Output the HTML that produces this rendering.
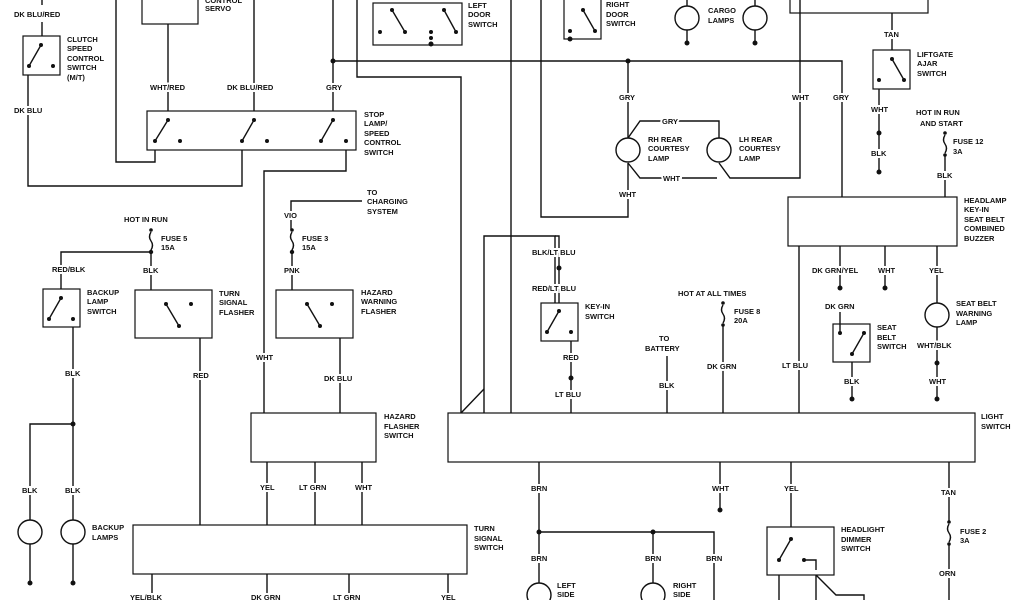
<!DOCTYPE html>
<html><head><meta charset="utf-8"><style>
html,body{margin:0;padding:0;background:#fff;}
svg{display:block;}
text{font-family:"Liberation Sans",sans-serif;font-size:7.5px;font-weight:bold;fill:#111;}
.w{paint-order:stroke;stroke:#fff;stroke-width:4px;}
line,polyline,rect,circle,path{stroke:#111;stroke-width:1.4;fill:none;}
.d{fill:#111;stroke:none;}
.b{stroke-width:1.2;}
</style></head><body>
<svg width="1024" height="600" viewBox="0 0 1024 600" xmlns="http://www.w3.org/2000/svg">
<!-- wires top-left -->
<polyline points="42,0 42,5"/>
<polyline points="42,22 42,36"/>
<polyline points="28,75 28,186 242,186 242,150"/>
<polyline points="116,0 116,162 155,162 155,150"/>
<line x1="168" y1="24" x2="168" y2="111"/>
<line x1="254" y1="0" x2="254" y2="111"/>
<line x1="333" y1="0" x2="333" y2="111"/>
<polyline points="333,61 842,61 842,197"/>
<polyline points="357,0 357,77 461,77 461,413"/>
<line x1="511" y1="0" x2="511" y2="413"/>
<polyline points="346,150 346,171 264,171 264,413"/>
<polyline points="541,0 541,217 628,217 628,163"/>
<polyline points="628,61 628,138"/>
<polyline points="800,0 800,178 730,178 719,163"/>
<polyline points="628,138 640,121 692,121"/><polyline points="692,121 719,121 719,138"/>
<polyline points="628,163 640,178 717,178"/>
<polyline points="484,413 484,236 555,236 555,303"/>
<line x1="461" y1="413" x2="484" y2="389"/>
<!-- boxes -->
<rect class="b" x="23" y="36" width="37" height="39"/>
<rect class="b" x="142" y="-2" width="56" height="26"/>
<rect class="b" x="147" y="111" width="209" height="39"/>
<rect class="b" x="373" y="3" width="89" height="42"/>
<rect class="b" x="564" y="-2" width="37" height="41"/>
<rect class="b" x="790" y="-2" width="138" height="15"/>
<rect class="b" x="873" y="50" width="37" height="39"/>
<rect class="b" x="788" y="197" width="169" height="49"/>
<rect class="b" x="43" y="289" width="37" height="38"/>
<rect class="b" x="135" y="290" width="77" height="48"/>
<rect class="b" x="276" y="290" width="77" height="48"/>
<rect class="b" x="541" y="303" width="37" height="38"/>
<rect class="b" x="833" y="324" width="37" height="38"/>
<rect class="b" x="251" y="413" width="125" height="49"/>
<rect class="b" x="448" y="413" width="527" height="49"/>
<rect class="b" x="133" y="525" width="334" height="49"/>
<rect class="b" x="767" y="527" width="67" height="48"/>
<!-- switch contacts -->
<g>
<circle class="d" cx="41" cy="45" r="2"/><circle class="d" cx="29" cy="66" r="2"/><circle class="d" cx="53" cy="66" r="2"/><line x1="41" y1="45" x2="29" y2="66"/>
<circle class="d" cx="168" cy="120" r="2"/><circle class="d" cx="155" cy="141" r="2"/><circle class="d" cx="180" cy="141" r="2"/><line x1="168" y1="120" x2="155" y2="141"/>
<circle class="d" cx="254" cy="120" r="2"/><circle class="d" cx="242" cy="141" r="2"/><circle class="d" cx="267" cy="141" r="2"/><line x1="254" y1="120" x2="242" y2="141"/>
<circle class="d" cx="333" cy="120" r="2"/><circle class="d" cx="321" cy="141" r="2"/><circle class="d" cx="346" cy="141" r="2"/><line x1="333" y1="120" x2="321" y2="141"/>
<circle class="d" cx="392" cy="10" r="2"/><circle class="d" cx="405" cy="32" r="2"/><line x1="392" y1="10" x2="405" y2="32"/>
<circle class="d" cx="444" cy="10" r="2"/><circle class="d" cx="456" cy="32" r="2"/><line x1="444" y1="10" x2="456" y2="32"/>
<circle class="d" cx="380" cy="32" r="2"/><circle class="d" cx="431" cy="32" r="2"/><circle class="d" cx="431" cy="38" r="2"/><circle class="d" cx="431" cy="44" r="2.5"/>
<circle class="d" cx="583" cy="10" r="2"/><circle class="d" cx="595" cy="31" r="2"/><line x1="583" y1="10" x2="595" y2="31"/><circle class="d" cx="570" cy="31" r="2"/><circle class="d" cx="570" cy="39" r="2.5"/>
<circle class="d" cx="892" cy="59" r="2"/><circle class="d" cx="904" cy="80" r="2"/><circle class="d" cx="879" cy="80" r="2"/><line x1="892" y1="59" x2="904" y2="80"/>
<circle class="d" cx="61" cy="298" r="2"/><circle class="d" cx="49" cy="319" r="2"/><circle class="d" cx="73" cy="319" r="2"/><line x1="61" y1="298" x2="49" y2="319"/>
<circle class="d" cx="166" cy="304" r="2"/><circle class="d" cx="191" cy="304" r="2"/><circle class="d" cx="179" cy="326" r="2"/><line x1="166" y1="304" x2="179" y2="326"/>
<circle class="d" cx="307" cy="304" r="2"/><circle class="d" cx="332" cy="304" r="2"/><circle class="d" cx="320" cy="326" r="2"/><line x1="307" y1="304" x2="320" y2="326"/>
<circle class="d" cx="559" cy="311" r="2"/><circle class="d" cx="547" cy="332" r="2"/><circle class="d" cx="571" cy="332" r="2"/><line x1="559" y1="311" x2="547" y2="332"/>
<circle class="d" cx="840" cy="333" r="2"/><circle class="d" cx="864" cy="333" r="2"/><circle class="d" cx="852" cy="354" r="2"/><line x1="864" y1="333" x2="852" y2="354"/>
<circle class="d" cx="791" cy="539" r="2"/><circle class="d" cx="779" cy="560" r="2"/><circle class="d" cx="804" cy="560" r="2"/><line x1="791" y1="539" x2="779" y2="560"/><polyline points="804,560 816,560 816,570"/>
</g>
<!-- right column wires -->
<line x1="892" y1="13" x2="892" y2="50"/>
<line x1="879" y1="89" x2="879" y2="172"/>
<circle class="d" cx="879" cy="133" r="2.5"/><circle class="d" cx="879" cy="172" r="2.5"/>
<line x1="945" y1="155" x2="945" y2="197"/><circle class="d" cx="945" cy="133" r="1.8"/><circle class="d" cx="945" cy="155" r="1.8"/><path d="M945,135 q-3,5 0,9 q3,4 0,9"/>
<line x1="799" y1="246" x2="799" y2="413"/>
<line x1="840" y1="246" x2="840" y2="288"/><circle class="d" cx="840" cy="288" r="2.5"/>
<line x1="885" y1="246" x2="885" y2="288"/><circle class="d" cx="885" cy="288" r="2.5"/>
<line x1="937" y1="246" x2="937" y2="303"/><circle cx="937" cy="315" r="12"/><line x1="937" y1="327" x2="937" y2="399"/><circle class="d" cx="937" cy="363" r="2.5"/><circle class="d" cx="937" cy="399" r="2.5"/>
<line x1="840" y1="312" x2="840" y2="333"/>
<line x1="852" y1="362" x2="852" y2="399"/><circle class="d" cx="852" cy="399" r="2.5"/>
<!-- lamps -->
<circle cx="687" cy="18" r="12"/><line x1="687" y1="30" x2="687" y2="43"/><circle class="d" cx="687" cy="43" r="2.5"/><line x1="687" y1="0" x2="687" y2="6"/>
<circle cx="755" cy="18" r="12"/><line x1="755" y1="30" x2="755" y2="43"/><circle class="d" cx="755" cy="43" r="2.5"/><line x1="755" y1="0" x2="755" y2="6"/>
<circle cx="628" cy="150" r="12"/><circle cx="719" cy="150" r="12"/>
<circle class="d" cx="333" cy="61" r="2.5"/><circle class="d" cx="628" cy="61" r="2.5"/>
<!-- key-in -->
<polyline points="555,236 559,236 559,303"/>
<circle class="d" cx="559" cy="268" r="2.5"/>
<line x1="571" y1="341" x2="571" y2="413"/><circle class="d" cx="571" cy="378" r="2.5"/>
<line x1="667" y1="356" x2="667" y2="413"/>
<line x1="723" y1="325" x2="723" y2="413"/><circle class="d" cx="723" cy="303" r="1.8"/><circle class="d" cx="723" cy="325" r="1.8"/><path d="M723,305 q-3,5 0,9 q3,4 0,9"/>
<!-- below light switch -->
<polyline points="539,462 539,532 714,532 714,600"/>
<line x1="653" y1="532" x2="653" y2="583"/><line x1="539" y1="532" x2="539" y2="583"/>
<circle cx="539" cy="595" r="12"/><circle cx="653" cy="595" r="12"/>
<circle class="d" cx="539" cy="532" r="2.5"/><circle class="d" cx="653" cy="532" r="2.5"/>
<line x1="720" y1="462" x2="720" y2="510"/><circle class="d" cx="720" cy="510" r="2.5"/>
<line x1="791" y1="462" x2="791" y2="527"/>
<line x1="779" y1="575" x2="779" y2="600"/><line x1="816" y1="575" x2="816" y2="600"/>
<polyline points="816,575 836,595 864,595 864,600"/>
<line x1="949" y1="462" x2="949" y2="522"/><line x1="949" y1="544" x2="949" y2="600"/>
<circle class="d" cx="949" cy="522" r="1.8"/><circle class="d" cx="949" cy="544" r="1.8"/><path d="M949,524 q-3,5 0,9 q3,4 0,9"/>
<!-- left lower -->
<line x1="151" y1="252" x2="151" y2="290"/><polyline points="61,289 61,252 151,252"/>
<circle class="d" cx="151" cy="230" r="1.8"/><circle class="d" cx="151" cy="252" r="2.2"/><path d="M151,232 q-3,5 0,9 q3,4 0,9"/>
<line x1="73" y1="327" x2="73" y2="520"/><polyline points="73,424 30,424 30,520"/><circle class="d" cx="73" cy="424" r="2.5"/>
<circle cx="30" cy="532" r="12"/><circle cx="73" cy="532" r="12"/>
<line x1="30" y1="544" x2="30" y2="583"/><line x1="73" y1="544" x2="73" y2="583"/>
<circle class="d" cx="30" cy="583" r="2.5"/><circle class="d" cx="73" cy="583" r="2.5"/>
<line x1="200" y1="338" x2="200" y2="525"/>
<polyline points="362,201 291,201 291,230"/><line x1="292" y1="252" x2="292" y2="290"/>
<circle class="d" cx="292" cy="230" r="1.8"/><circle class="d" cx="292" cy="252" r="2.2"/><path d="M292,232 q-3,5 0,9 q3,4 0,9"/>
<line x1="340" y1="338" x2="340" y2="413"/>
<line x1="267" y1="462" x2="267" y2="525"/><line x1="315" y1="462" x2="315" y2="525"/><line x1="362" y1="462" x2="362" y2="525"/>
<line x1="152" y1="574" x2="152" y2="600"/><line x1="267" y1="574" x2="267" y2="600"/><line x1="349" y1="574" x2="349" y2="600"/><line x1="448" y1="574" x2="448" y2="600"/>
<!-- labels -->
<g class="w">
<text x="14" y="17">DK BLU/RED</text>
<text x="14" y="113">DK BLU</text>
<text x="150" y="90">WHT/RED</text>
<text x="227" y="90">DK BLU/RED</text>
<text x="326" y="90">GRY</text>
<text x="619" y="100">GRY</text>
<text x="662" y="124">GRY</text>
<text x="663" y="181">WHT</text>
<text x="619" y="197">WHT</text>
<text x="792" y="100">WHT</text>
<text x="833" y="100">GRY</text>
<text x="884" y="37">TAN</text>
<text x="871" y="112">WHT</text>
<text x="871" y="156">BLK</text>
<text x="937" y="178">BLK</text>
<text x="812" y="273">DK GRN/YEL</text>
<text x="878" y="273">WHT</text>
<text x="929" y="273">YEL</text>
<text x="825" y="309">DK GRN</text>
<text x="917" y="348">WHT/BLK</text>
<text x="929" y="384">WHT</text>
<text x="844" y="384">BLK</text>
<text x="782" y="368">LT BLU</text>
<text x="532" y="255">BLK/LT BLU</text>
<text x="532" y="291">RED/LT BLU</text>
<text x="563" y="360">RED</text>
<text x="555" y="397">LT BLU</text>
<text x="659" y="388">BLK</text>
<text x="707" y="369">DK GRN</text>
<text x="531" y="491">BRN</text>
<text x="712" y="491">WHT</text>
<text x="784" y="491">YEL</text>
<text x="941" y="495">TAN</text>
<text x="939" y="576">ORN</text>
<text x="531" y="561">BRN</text><text x="645" y="561">BRN</text><text x="706" y="561">BRN</text>
<text x="52" y="272">RED/BLK</text>
<text x="143" y="273">BLK</text>
<text x="65" y="376">BLK</text>
<text x="22" y="493">BLK</text><text x="65" y="493">BLK</text>
<text x="193" y="378">RED</text>
<text x="284" y="218">VIO</text>
<text x="284" y="273">PNK</text>
<text x="256" y="360">WHT</text>
<text x="324" y="381">DK BLU</text>
<text x="260" y="490">YEL</text>
<text x="299" y="490">LT GRN</text>
<text x="355" y="490">WHT</text>
<text x="130" y="600">YEL/BLK</text>
<text x="251" y="600">DK GRN</text>
<text x="333" y="600">LT GRN</text>
<text x="441" y="600">YEL</text>
</g>
<g>
<text x="205" y="3">CONTROL</text><text x="205" y="11">SERVO</text>
<text x="67" y="42">CLUTCH</text><text x="67" y="51">SPEED</text><text x="67" y="61">CONTROL</text><text x="67" y="70">SWITCH</text><text x="67" y="80">(M/T)</text>
<text x="364" y="117">STOP</text><text x="364" y="126">LAMP/</text><text x="364" y="136">SPEED</text><text x="364" y="145">CONTROL</text><text x="364" y="155">SWITCH</text>
<text x="468" y="8">LEFT</text><text x="468" y="17">DOOR</text><text x="468" y="27">SWITCH</text>
<text x="606" y="7">RIGHT</text><text x="606" y="17">DOOR</text><text x="606" y="26">SWITCH</text>
<text x="708" y="13">CARGO</text><text x="708" y="23">LAMPS</text>
<text x="917" y="57">LIFTGATE</text><text x="917" y="66">AJAR</text><text x="917" y="76">SWITCH</text>
<text x="916" y="115">HOT IN RUN</text><text x="920" y="126">AND START</text>
<text x="953" y="144">FUSE 12</text><text x="953" y="154">3A</text>
<text x="648" y="142">RH REAR</text><text x="648" y="151">COURTESY</text><text x="648" y="161">LAMP</text>
<text x="739" y="142">LH REAR</text><text x="739" y="151">COURTESY</text><text x="739" y="161">LAMP</text>
<text x="964" y="203">HEADLAMP</text><text x="964" y="212">KEY-IN</text><text x="964" y="222">SEAT BELT</text><text x="964" y="231">COMBINED</text><text x="964" y="241">BUZZER</text>
<text x="956" y="306">SEAT BELT</text><text x="956" y="316">WARNING</text><text x="956" y="325">LAMP</text>
<text x="877" y="330">SEAT</text><text x="877" y="340">BELT</text><text x="877" y="349">SWITCH</text>
<text x="585" y="309">KEY-IN</text><text x="585" y="319">SWITCH</text>
<text x="678" y="296">HOT AT ALL TIMES</text>
<text x="734" y="314">FUSE 8</text><text x="734" y="323">20A</text>
<text x="659" y="341">TO</text><text x="645" y="351">BATTERY</text>
<text x="981" y="419">LIGHT</text><text x="981" y="429">SWITCH</text>
<text x="841" y="532">HEADLIGHT</text><text x="841" y="542">DIMMER</text><text x="841" y="551">SWITCH</text>
<text x="960" y="534">FUSE 2</text><text x="960" y="543">3A</text>
<text x="557" y="588">LEFT</text><text x="557" y="597">SIDE</text>
<text x="673" y="588">RIGHT</text><text x="673" y="597">SIDE</text>
<text x="124" y="222">HOT IN RUN</text>
<text x="161" y="241">FUSE 5</text><text x="161" y="250">15A</text>
<text x="87" y="295">BACKUP</text><text x="87" y="304">LAMP</text><text x="87" y="314">SWITCH</text>
<text x="219" y="296">TURN</text><text x="219" y="305">SIGNAL</text><text x="219" y="315">FLASHER</text>
<text x="367" y="195">TO</text><text x="367" y="204">CHARGING</text><text x="367" y="214">SYSTEM</text>
<text x="302" y="241">FUSE 3</text><text x="302" y="250">15A</text>
<text x="361" y="295">HAZARD</text><text x="361" y="304">WARNING</text><text x="361" y="314">FLASHER</text>
<text x="384" y="419">HAZARD</text><text x="384" y="429">FLASHER</text><text x="384" y="438">SWITCH</text>
<text x="92" y="530">BACKUP</text><text x="92" y="540">LAMPS</text>
<text x="474" y="531">TURN</text><text x="474" y="541">SIGNAL</text><text x="474" y="550">SWITCH</text>
</g>
</svg>
</body></html>
